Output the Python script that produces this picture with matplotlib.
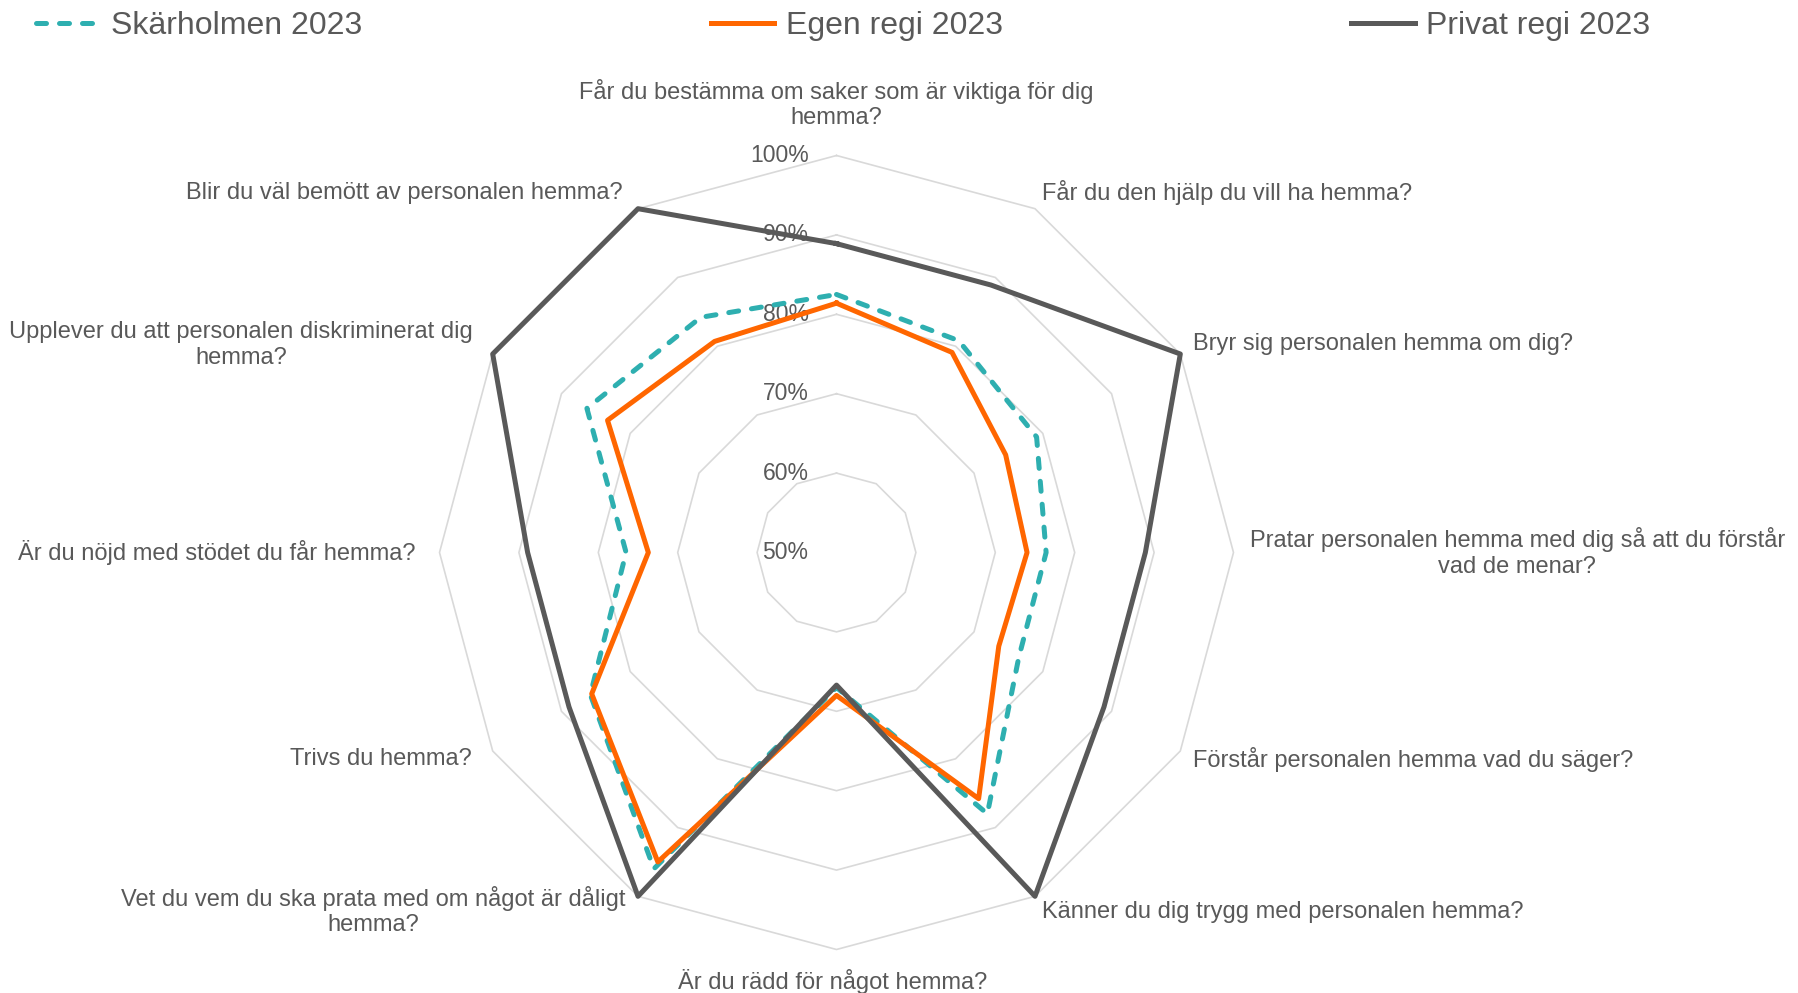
import numpy as np
import matplotlib.pyplot as plt
from matplotlib.transforms import offset_copy

plt.rcParams['font.family'] = ['Liberation Sans', 'DejaVu Sans']

# survey questions, clockwise from the top
categories = [
    'Får du bestämma om saker som är viktiga för dig\nhemma?',
    'Får du den hjälp du vill ha hemma?',
    'Bryr sig personalen hemma om dig?',
    'Pratar personalen hemma med dig så att du förstår\nvad de menar?',
    'Förstår personalen hemma vad du säger?',
    'Känner du dig trygg med personalen hemma?',
    'Är du rädd för något hemma?',
    'Vet du vem du ska prata med om något är dåligt\nhemma?',
    'Trivs du hemma?',
    'Är du nöjd med stödet du får hemma?',
    'Upplever du att personalen diskriminerat dig\nhemma?',
    'Blir du väl bemött av personalen hemma?',
]

# share of positive answers (%)
skarholmen = [82.5, 80.8, 79.1, 76.4, 76.5, 88.0, 67.0, 96.0, 85.8, 76.5, 86.3, 84.2]
egen_regi = [81.4, 79.1, 74.6, 74.0, 73.6, 85.8, 68.0, 95.0, 85.6, 73.7, 83.3, 80.7]
privat_regi = [88.9, 88.9, 100, 88.9, 88.9, 100, 66.7, 100, 88.9, 88.9, 100, 100]

ring_levels = [50, 60, 70, 80, 90, 100]
ring_labels = ['50%', '60%', '70%', '80%', '90%', '100%']

text_col = '#595959'
grid_col = '#D9D9D9'

W, H = 1798, 993
fig = plt.figure(figsize=(W / 100, H / 100), dpi=100)

# polar axes: centre at (836.5, 552.5) px, 100% ring radius 397 px
cx, cy, rad = 836.5, 552.5, 397
ax = fig.add_axes([(cx - rad) / W, (H - cy - rad) / H, 2 * rad / W, 2 * rad / H],
                  projection='polar')
ax.set_theta_zero_location('N')
ax.set_theta_direction(-1)
ax.set_ylim(50, 100)
ax.grid(False)
ax.spines['polar'].set_visible(False)
ax.set_xticks([])
ax.set_yticks([])
ax.patch.set_alpha(0)

n = len(categories)
angles = np.linspace(0, 2 * np.pi, n, endpoint=False)
closed = np.append(angles, angles[0])

# polygon grid rings
for lvl in ring_levels[1:]:
    ax.plot(closed, [lvl] * (n + 1), color=grid_col, lw=1.2, zorder=1, clip_on=False)

def close(vals):
    return vals + vals[:1]

ax.plot(closed, close(skarholmen), color='#2EAFB0', lw=3.6,
        linestyle=(0, (2.0, 2.6)), dash_capstyle='round', zorder=3, clip_on=False,
        label='Skärholmen 2023')
ax.plot(closed, close(egen_regi), color='#FF6600', lw=3.6, zorder=4,
        clip_on=False, label='Egen regi 2023')
ax.plot(closed, close(privat_regi), color='#595959', lw=3.6, zorder=5,
        clip_on=False, label='Privat regi 2023')

# radial tick labels, to the left of the vertical axis
for lvl, lab in zip(ring_levels, ring_labels):
    tr = offset_copy(ax.transData, fig=fig, x=-28, y=0, units='dots')
    ax.text(0, lvl, lab, transform=tr, ha='right', va='center',
            fontsize=16.5, color=text_col, zorder=2)

# category labels: (ha, dx, dy) in pixels from the 100% vertex
label_pos = [
    ('center', 0, 45),
    ('left', 6, 14),
    ('left', 11, 9),
    ('left', 14, 0),
    ('left', 11, -7),
    ('left', 6, -14),
    ('center', -3, -28),
    ('right', -11, -13),
    ('right', -18, -7),
    ('right', -21, 0),
    ('right', -17, 8),
    ('right', -13, 14),
]
for ang, lab, (ha, dx, dy) in zip(angles, categories, label_pos):
    tr = offset_copy(ax.transData, fig=fig, x=dx * 1.147, y=dy * 1.147, units='dots')
    ax.text(ang, 100, lab, transform=tr, ha=ha, va='center', multialignment='center',
            fontsize=17, color=text_col, linespacing=1.2, clip_on=False)

leg = fig.legend(loc='upper left', bbox_to_anchor=(0.0165, 0.995), ncol=3,
                 frameon=False, fontsize=23, handlelength=2.0, handletextpad=0.35,
                 columnspacing=10.9, borderpad=0.2, borderaxespad=0)
for t in leg.get_texts():
    t.set_color(text_col)

fig.savefig('out.png', dpi=100)
